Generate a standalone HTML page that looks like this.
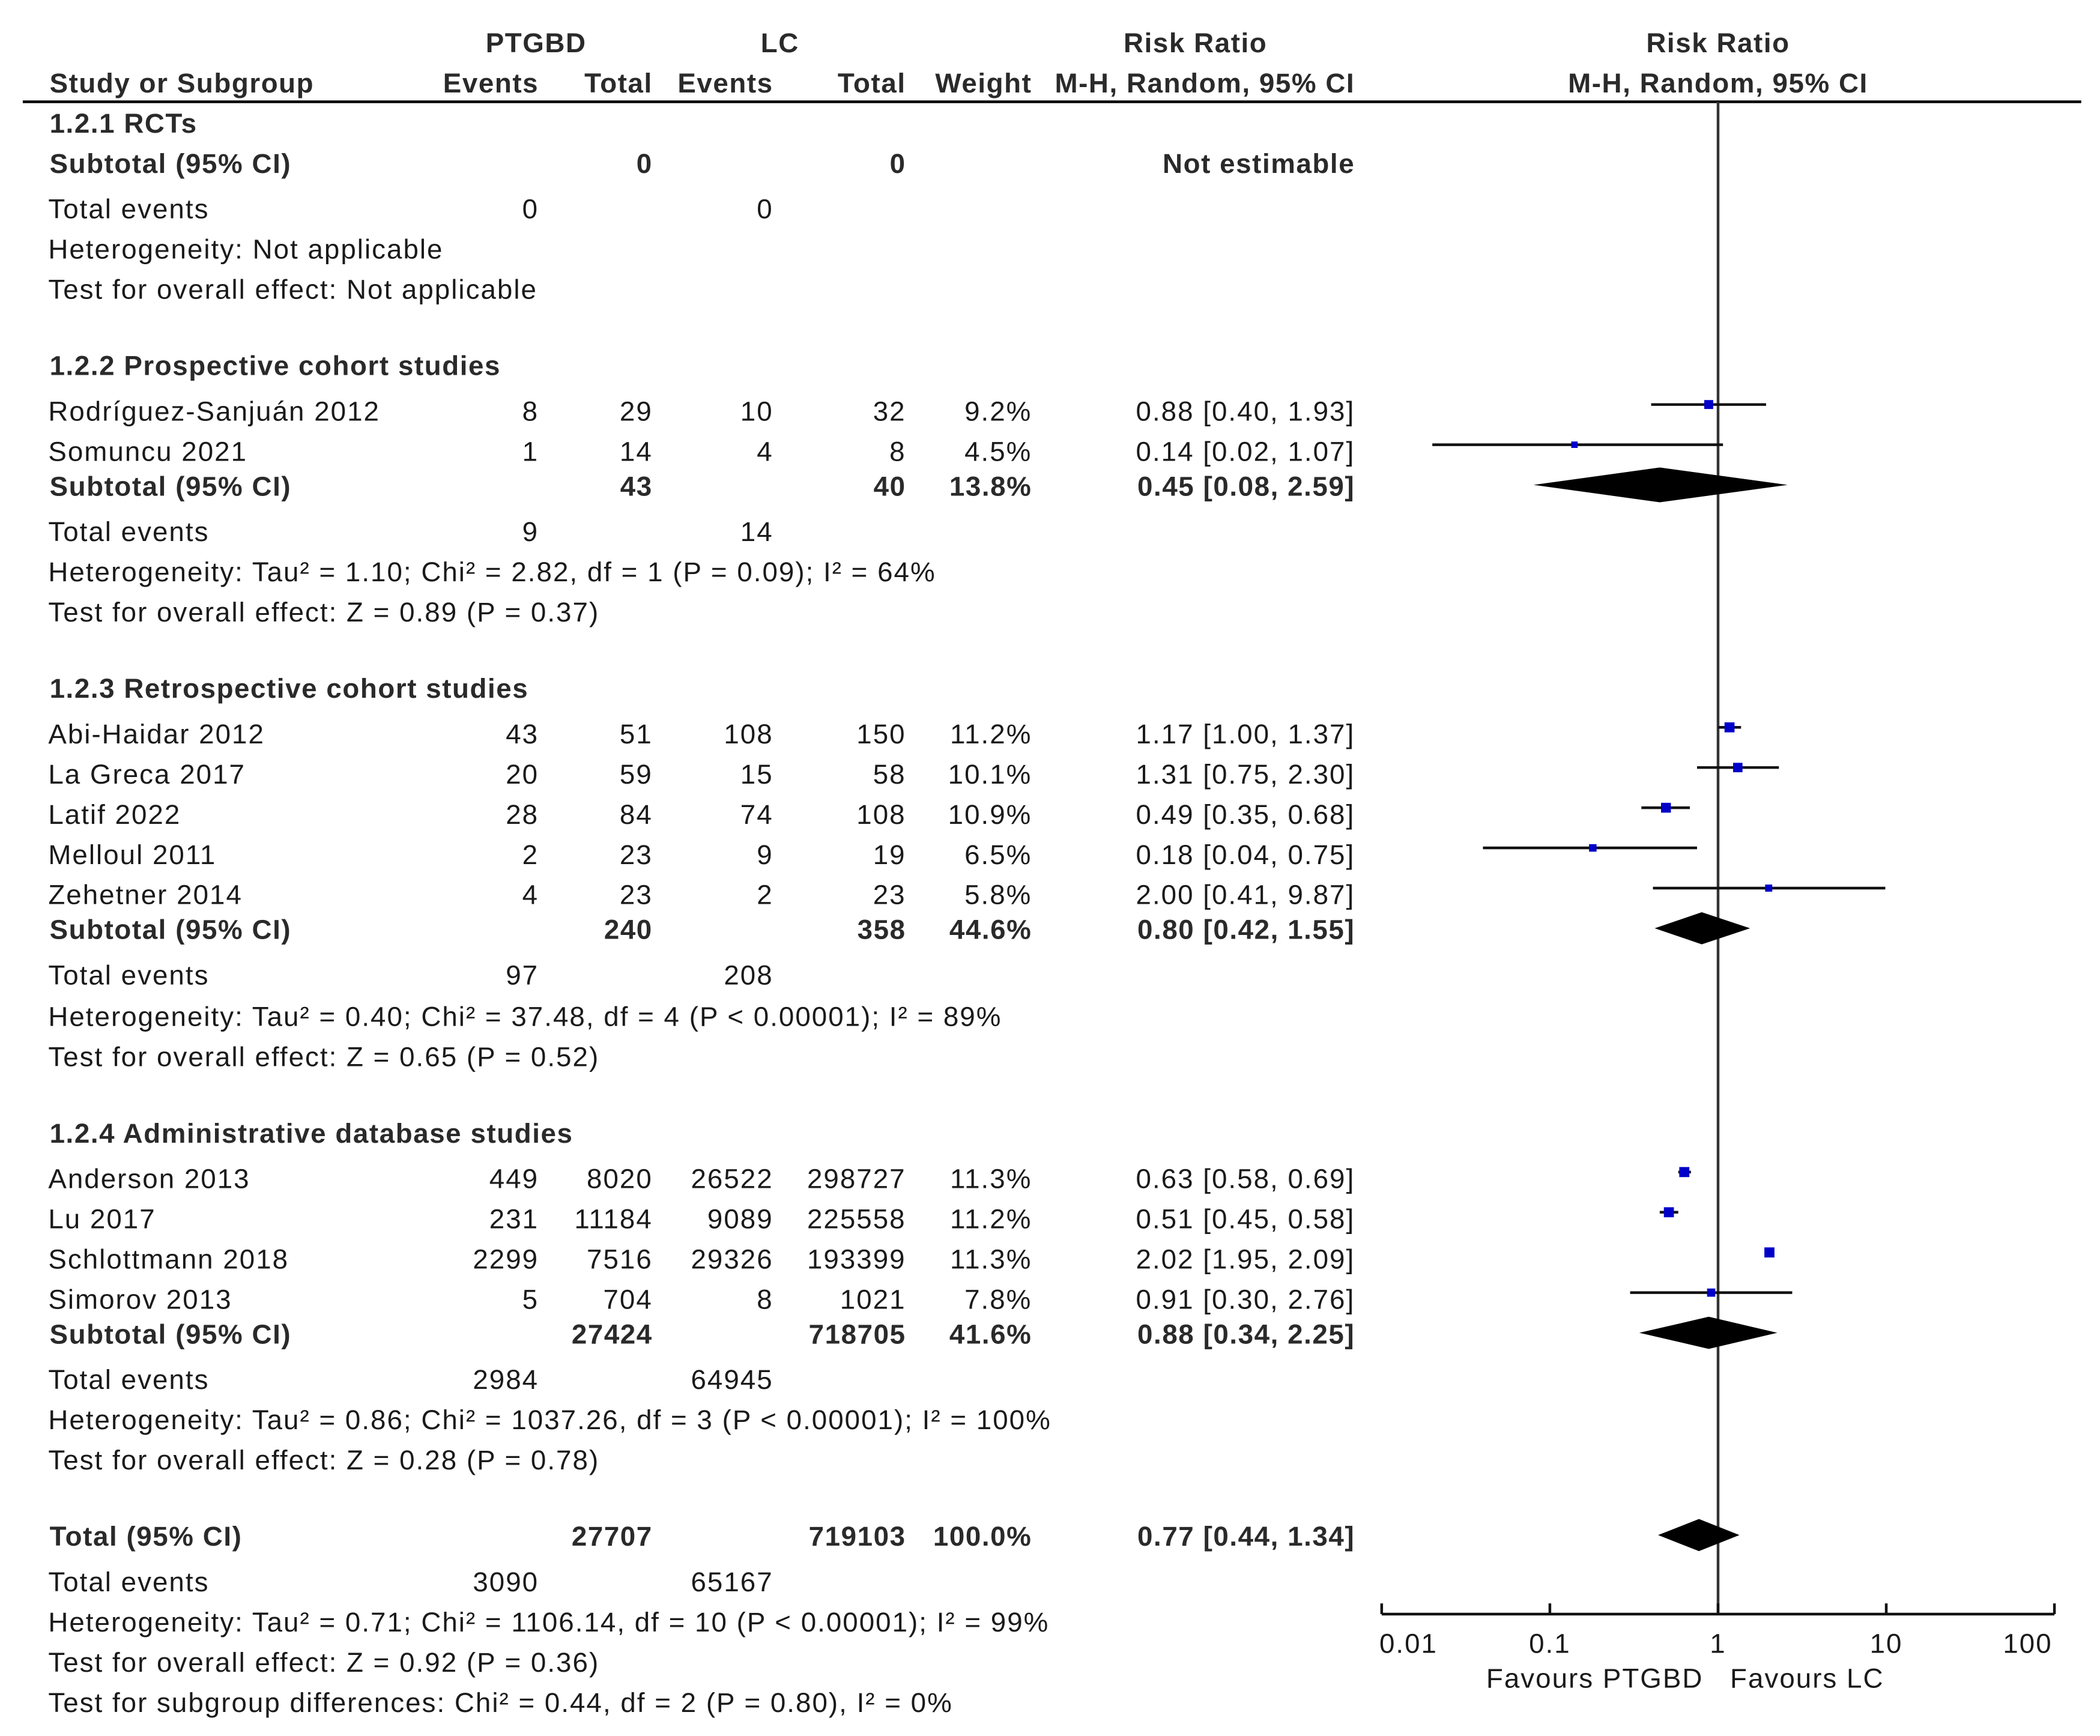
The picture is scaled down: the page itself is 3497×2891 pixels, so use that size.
<!DOCTYPE html>
<html><head><meta charset="utf-8"><style>
html,body{margin:0;padding:0;background:#fff;}
svg{display:block;}
text{font-family:"Liberation Sans",Arial,sans-serif;font-size:20.5px;fill:#1a1a1a;letter-spacing:0.9px;}
.b{font-weight:bold;fill:#2a2a2a;letter-spacing:0.7px;}
.r{text-anchor:end;}
.m{text-anchor:middle;}
</style></head><body>
<svg id="chart" width="3497" height="2891" viewBox="0 0 1567 1296" preserveAspectRatio="none" xmlns="http://www.w3.org/2000/svg">
<g>
<text class="b m" x="400" y="39">PTGBD</text>
<text class="b m" x="582" y="39">LC</text>
<text class="b m" x="892" y="39">Risk Ratio</text>
<text class="b m" x="1282" y="39">Risk Ratio</text>
<text class="b" x="37" y="69">Study or Subgroup</text>
<text class="b r" x="402" y="69">Events</text>
<text class="b r" x="487" y="69">Total</text>
<text class="b r" x="577" y="69">Events</text>
<text class="b r" x="676" y="69">Total</text>
<text class="b r" x="770" y="69">Weight</text>
<text class="b r" x="1011" y="69">M-H, Random, 95% CI</text>
<text class="b m" x="1282" y="69">M-H, Random, 95% CI</text>
<line x1="17" y1="76" x2="1553" y2="76" stroke="#000" stroke-width="2"/>
</g>
<g id="table"></g>
<g id="plot"></g>
</svg>
<script>
const NS="http://www.w3.org/2000/svg";
// rows: [y, label, ev1, tot1, ev2, tot2, weight, ci, bold]
const rows=[
[92,"1.2.1 RCTs","","","","","","",1],
[122,"Subtotal (95% CI)","","0","","0","","Not estimable",1],
[156,"Total events","0","","0","","","",0],
[186,"Heterogeneity: Not applicable","","","","","","",0],
[216,"Test for overall effect: Not applicable","","","","","","",0],
[273,"1.2.2 Prospective cohort studies","","","","","","",1],
[307,"Rodríguez-Sanjuán 2012","8","29","10","32","9.2%","0.88 [0.40, 1.93]",0],
[337,"Somuncu 2021","1","14","4","8","4.5%","0.14 [0.02, 1.07]",0],
[363,"Subtotal (95% CI)","","43","","40","13.8%","0.45 [0.08, 2.59]",1],
[397,"Total events","9","","14","","","",0],
[427,"Heterogeneity: Tau² = 1.10; Chi² = 2.82, df = 1 (P = 0.09); I² = 64%","","","","","","",0],
[457,"Test for overall effect: Z = 0.89 (P = 0.37)","","","","","","",0],
[514,"1.2.3 Retrospective cohort studies","","","","","","",1],
[548,"Abi-Haidar 2012","43","51","108","150","11.2%","1.17 [1.00, 1.37]",0],
[578,"La Greca 2017","20","59","15","58","10.1%","1.31 [0.75, 2.30]",0],
[608,"Latif 2022","28","84","74","108","10.9%","0.49 [0.35, 0.68]",0],
[638,"Melloul 2011","2","23","9","19","6.5%","0.18 [0.04, 0.75]",0],
[668,"Zehetner 2014","4","23","2","23","5.8%","2.00 [0.41, 9.87]",0],
[694,"Subtotal (95% CI)","","240","","358","44.6%","0.80 [0.42, 1.55]",1],
[728,"Total events","97","","208","","","",0],
[759,"Heterogeneity: Tau² = 0.40; Chi² = 37.48, df = 4 (P < 0.00001); I² = 89%","","","","","","",0],
[789,"Test for overall effect: Z = 0.65 (P = 0.52)","","","","","","",0],
[846,"1.2.4 Administrative database studies","","","","","","",1],
[880,"Anderson 2013","449","8020","26522","298727","11.3%","0.63 [0.58, 0.69]",0],
[910,"Lu 2017","231","11184","9089","225558","11.2%","0.51 [0.45, 0.58]",0],
[940,"Schlottmann 2018","2299","7516","29326","193399","11.3%","2.02 [1.95, 2.09]",0],
[970,"Simorov 2013","5","704","8","1021","7.8%","0.91 [0.30, 2.76]",0],
[996,"Subtotal (95% CI)","","27424","","718705","41.6%","0.88 [0.34, 2.25]",1],
[1030,"Total events","2984","","64945","","","",0],
[1060,"Heterogeneity: Tau² = 0.86; Chi² = 1037.26, df = 3 (P < 0.00001); I² = 100%","","","","","","",0],
[1090,"Test for overall effect: Z = 0.28 (P = 0.78)","","","","","","",0],
[1147,"Total (95% CI)","","27707","","719103","100.0%","0.77 [0.44, 1.34]",1],
[1181,"Total events","3090","","65167","","","",0],
[1211,"Heterogeneity: Tau² = 0.71; Chi² = 1106.14, df = 10 (P < 0.00001); I² = 99%","","","","","","",0],
[1241,"Test for overall effect: Z = 0.92 (P = 0.36)","","","","","","",0],
[1271,"Test for subgroup differences: Chi² = 0.44, df = 2 (P = 0.80), I² = 0%","","","","","","",0]
];
const colX=[402,487,577,676,770,1011];
const tbl=document.getElementById('table');
function txt(parent,x,y,s,cls){const t=document.createElementNS(NS,'text');t.setAttribute('x',x);t.setAttribute('y',y);if(cls)t.setAttribute('class',cls);t.textContent=s;parent.appendChild(t);return t;}
rows.forEach(r=>{
  const g=document.createElementNS(NS,'g');
  
  
  const isSub=r[8]&&!/^1\.2/.test(r[1]);
  const bold=r[8]?'b':'';
  txt(g,/^1\.2|^Subtotal|^Total \(/.test(r[1])?37:36,r[0]+7,r[1],bold);
  for(let i=0;i<6;i++){if(r[i+2]!=="")txt(g,colX[i],r[0]+7,r[i+2],(isSub&&i!==0&&i!==2?'b ':'')+'r');}
  tbl.appendChild(g);
});
// plot data
const studyNames=["Rodríguez-Sanjuán 2012","Somuncu 2021","Abi-Haidar 2012","La Greca 2017","Latif 2022","Melloul 2011","Zehetner 2014","Anderson 2013","Lu 2017","Schlottmann 2018","Simorov 2013"];
const studyRR=[0.88,0.14,1.17,1.31,0.49,0.18,2.00,0.63,0.51,2.02,0.91];
const studyLo=[0.40,0.02,1.00,0.75,0.35,0.04,0.41,0.58,0.45,1.95,0.30];
const studyHi=[1.93,1.07,1.37,2.30,0.68,0.75,9.87,0.69,0.58,2.09,2.76];
const studyWeight=[9.2,4.5,11.2,10.1,10.9,6.5,5.8,11.3,11.2,11.3,7.8];
const studyRowY=[307,337,548,578,608,638,668,880,910,940,970];
const pooledNames=["1.2.2 subtotal","1.2.3 subtotal","1.2.4 subtotal","overall total"];
const pooledRR=[0.45,0.80,0.88,0.77];
const pooledLo=[0.08,0.42,0.34,0.44];
const pooledHi=[2.59,1.55,2.25,1.34];
const pooledRowY=[363,694,996,1147];
const tickValues=[0.01,0.1,1,10,100];
const tickLabels=["0.01","0.1","1","10","100"];
const X0=1282, DEC=125.5;
const xs=v=>X0+Math.log10(v)*DEC;
const plot=document.getElementById('plot');
function el(tag,attrs){const e=document.createElementNS(NS,tag);for(const k in attrs)e.setAttribute(k,attrs[k]);plot.appendChild(e);return e;}
let e=el('line',{x1:X0,y1:76,x2:X0,y2:1205,stroke:'#333','stroke-width':2});


studyRR.forEach((v,i)=>{
  const y=studyRowY[i]-5;
  const l=el('line',{x1:xs(studyLo[i]),y1:y,x2:xs(studyHi[i]),y2:y,stroke:'#111','stroke-width':2});
  
  
  const s=3+studyWeight[i]*0.4;
  const r=el('rect',{x:xs(v)-s/2,y:y-s/2,width:s,height:s,fill:'#0000c8'});
  
  
});
pooledRR.forEach((v,i)=>{
  const y=pooledRowY[i]-1, h=i===0?13:12;
  const p=el('polygon',{points:`${xs(pooledLo[i])},${y} ${xs(v)},${y-h} ${xs(pooledHi[i])},${y} ${xs(v)},${y+h}`,fill:'#000'});
  
  
});
const ax=el('line',{x1:xs(0.01),y1:1205,x2:xs(100),y2:1205,stroke:'#111','stroke-width':2});


tickValues.forEach((v,i)=>{
  const t=el('line',{x1:xs(v),y1:1197,x2:xs(v),y2:1205,stroke:'#111','stroke-width':2});
  
  
  const lb=txt(plot,xs(v)+(i===0?20:i===4?-20:0),1234,tickLabels[i],'m');
  
  
});
const f1=txt(plot,1271,1260,"Favours PTGBD",'r');


const f2=txt(plot,1291,1260,"Favours LC",'');


</script>
</body></html>
